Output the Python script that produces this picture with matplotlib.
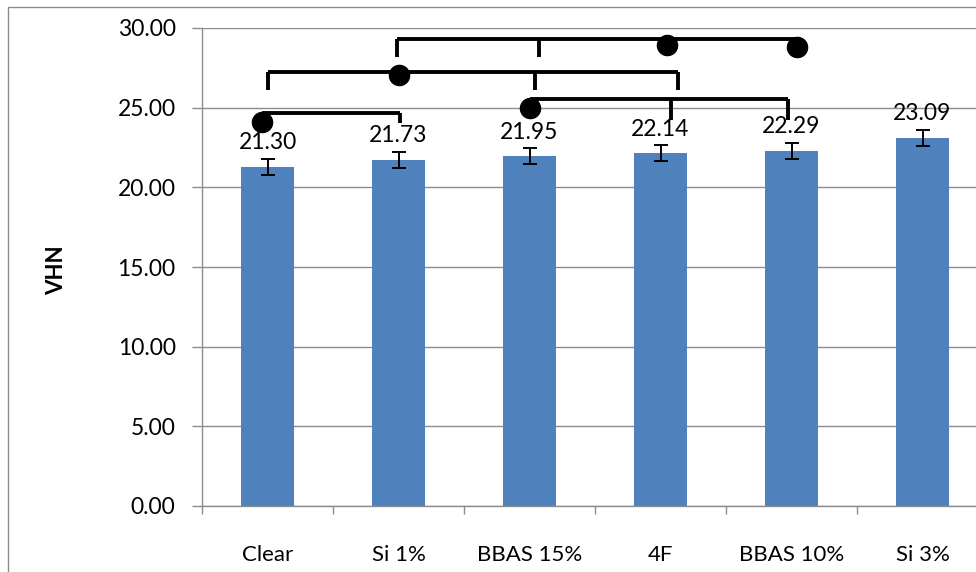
import matplotlib.pyplot as plt
from matplotlib.patches import Rectangle
import numpy as np

# hardness per group (Vickers)
groups = ["Clear", "Si 1%", "BBAS 15%", "4F", "BBAS 10%", "Si 3%"]
vhn = [21.30, 21.73, 21.95, 22.14, 22.29, 23.09]
vhn_err = [0.5, 0.5, 0.5, 0.5, 0.5, 0.5]

plt.rcParams['font.family'] = ['Lato', 'DejaVu Sans']

W, H = 976, 572
fig = plt.figure(figsize=(W / 100, H / 100), dpi=100)
fig.patch.set_facecolor('white')

# outer chart frame (runs off the right and bottom edges)
fig.patches.append(Rectangle((8 / W, -0.05), 1.05, 1 - 7 / H + 0.05, transform=fig.transFigure,
                             fill=False, edgecolor='#8c8c8c', linewidth=1.0))

ax = fig.add_axes([202 / W, 66 / H, 786 / W, 478 / H])
x = np.arange(len(groups))
grid_col = '#8c8c8c'

ax.bar(x, vhn, width=0.4, color='#4f81bd', zorder=2)
ax.errorbar(x, vhn, yerr=vhn_err, fmt='none', ecolor='black', elinewidth=1.4,
            capsize=5, capthick=1.4, zorder=3)

for xi, v, e in zip(x, vhn, vhn_err):
    ax.annotate(f"{v:.2f}", (xi, v + e), xytext=(0, 7), textcoords='offset points',
                ha='center', va='baseline', fontsize=16.5, color='black', zorder=4)

ax.set_xlim(-0.5, 5.5)
ax.set_ylim(0, 30)
ax.set_yticks(np.arange(0, 30.1, 5))
ax.set_yticklabels([f"{t:.2f}" for t in np.arange(0, 30.1, 5)], fontsize=16.5)
ax.yaxis.grid(True, color=grid_col, linewidth=1.0, zorder=0)
ax.set_axisbelow(True)
ax.tick_params(axis='y', length=7, width=1.0, color=grid_col, pad=12)

ax.set_xticks(x)
ax.set_xticklabels(groups, fontsize=16)
ax.set_xticks(np.arange(-0.5, 6, 1), minor=True)
ax.tick_params(axis='x', which='major', length=0, pad=28)
ax.tick_params(axis='x', which='minor', length=6, width=1.0, color=grid_col)

for side in ['top', 'right']:
    ax.spines[side].set_visible(False)
for side in ['left', 'bottom']:
    ax.spines[side].set_color(grid_col)
    ax.spines[side].set_linewidth(1.0)

fig.text(57 / W, 1 - 270 / H, "VHN", rotation=90, fontsize=16, fontweight='bold',
         ha='center', va='center')

# significance brackets: (line level, left end, right end, drop-to level, tick positions, dots)
brackets = [
    (24.65, -0.04, 1.01, 24.03, [1.01], [(-0.04, 24.09)]),
    (27.23, 0.0, 3.13, 26.1, [0.0, 2.04, 3.13], [(1.0, 27.04)]),
    (29.3, 0.99, 4.04, 28.17, [0.99, 2.07], [(3.05, 28.92), (4.04, 28.8)]),
    (25.53, 2.0, 3.97, 24.2, [3.08, 3.97], [(2.0, 24.97)]),
]
for level, x0, x1, drop, ticks, dots in brackets:
    ax.plot([x0, x1], [level, level], color='black', linewidth=2.8,
            solid_capstyle='butt', zorder=5, clip_on=False)
    for t in ticks:
        ax.plot([t, t], [level, drop], color='black', linewidth=2.8,
                solid_capstyle='butt', zorder=5, clip_on=False)
    for dx, dy in dots:
        ax.plot(dx, dy, 'o', color='black', markersize=14.5, zorder=6, clip_on=False)

fig.savefig("out.png", dpi=100)
